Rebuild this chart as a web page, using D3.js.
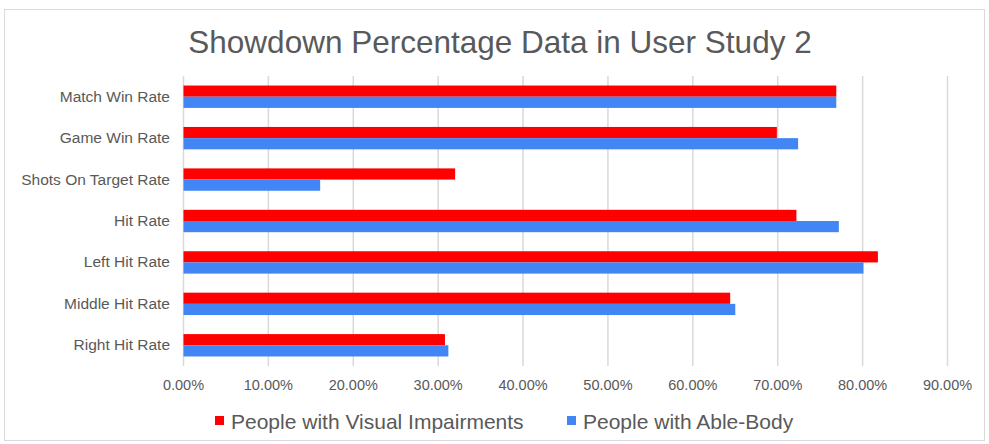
<!DOCTYPE html>
<html>
<head>
<meta charset="utf-8">
<script src="https://cdn.jsdelivr.net/npm/d3@7"></script>
<style>
  body { margin: 0; background: #fff; }
  text { font-family: "Liberation Sans", Arial, sans-serif; fill: #595959; }
</style>
</head>
<body>
<svg id="chart" width="989" height="444"></svg>
<script>
var width = 989,
   height = 444;

// data
var categories = [
   "Match Win Rate",
   "Game Win Rate",
   "Shots On Target Rate",
   "Hit Rate",
   "Left Hit Rate",
   "Middle Hit Rate",
   "Right Hit Rate",
];
var seriesNames = ["People with Visual Impairments", "People with Able-Body"];
var visualImpaired = [0.769, 0.699, 0.32, 0.722, 0.818, 0.644, 0.308];
var ableBody = [0.769, 0.724, 0.161, 0.772, 0.801, 0.65, 0.312];
var xTicks = [0, 0.1, 0.2, 0.3, 0.4, 0.5, 0.6, 0.7, 0.8, 0.9];
var colors = ["#ff0000", "#4285f4"];

var svg = d3.select("svg#chart");

// chart border
svg.append("rect")
   .attr("x", 4.5)
   .attr("y", 9.5)
   .attr("width", 980)
   .attr("height", 431)
   .attr("fill", "#fff")
   .attr("stroke", "#d9d9d9")
   .attr("stroke-width", 1);

// title
svg.append("text")
   .attr("x", 500)
   .attr("y", 53)
   .attr("text-anchor", "middle")
   .style("font-size", "31.5px")
   .text("Showdown Percentage Data in User Study 2");

//Setting scales
var x = d3.scaleLinear().domain([0, 0.9]).range([183.5, 947.5]);
var y = d3
   .scaleBand()
   .domain(categories)
   .range([76, 366])
   .paddingInner(0.46)
   .paddingOuter(0.23);
var sub = d3.scaleBand().domain([0, 1]).range([0, y.bandwidth()]);

// gridlines
svg.append("g")
   .selectAll("line")
   .data(xTicks)
   .enter()
   .append("line")
   .attr("x1", (d) => x(d))
   .attr("x2", (d) => x(d))
   .attr("y1", 76)
   .attr("y2", 366)
   .attr("stroke", "#d9d9d9")
   .attr("stroke-width", 1.5);

// x tick labels
svg.append("g")
   .selectAll("text")
   .data(xTicks)
   .enter()
   .append("text")
   .attr("x", (d) => x(d))
   .attr("y", 390)
   .attr("text-anchor", "middle")
   .style("font-size", "14.5px")
   .text(d3.format(".2%"));

// category labels
svg.append("g")
   .selectAll("text")
   .data(categories)
   .enter()
   .append("text")
   .attr("x", 170)
   .attr("y", (d) => y(d) + y.bandwidth() / 2 + 5)
   .attr("text-anchor", "end")
   .style("font-size", "15.5px")
   .text((d) => d);

// bars
[visualImpaired, ableBody].forEach(function (values, s) {
   svg.append("g")
      .selectAll("rect")
      .data(values)
      .enter()
      .append("rect")
      .attr("x", x(0))
      .attr("y", (d, i) => y(categories[i]) + sub(s))
      .attr("width", (d) => x(d) - x(0))
      .attr("height", sub.bandwidth())
      .attr("fill", colors[s]);
});

// legend
var legendX = [215, 567];
var legend = svg
   .append("g")
   .selectAll("g")
   .data(seriesNames)
   .enter()
   .append("g")
   .attr("transform", (d, i) => "translate(" + legendX[i] + ",0)");
legend
   .append("rect")
   .attr("x", 0)
   .attr("y", 416)
   .attr("width", 9)
   .attr("height", 9)
   .attr("fill", (d, i) => colors[i]);
legend
   .append("text")
   .attr("x", 16)
   .attr("y", 429)
   .style("font-size", "21px")
   .text((d) => d);
</script>
</body>
</html>
